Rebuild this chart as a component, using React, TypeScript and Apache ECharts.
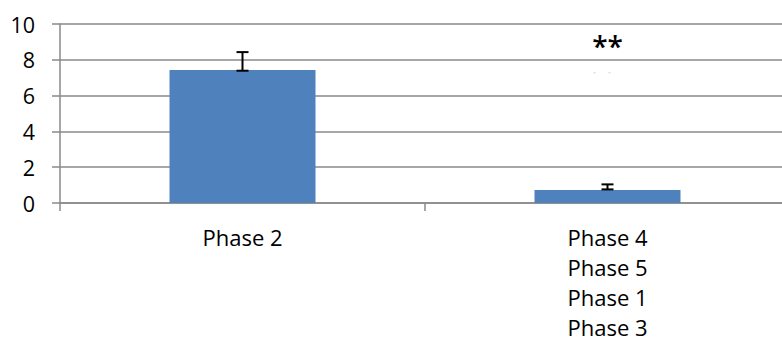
import React, { useEffect, useRef } from "react";
import * as echarts from "echarts";

// Data
const categoryGroups: string[][] = [["Phase 2"], ["Phase 4", "Phase 5", "Phase 1", "Phase 3"]];
const means: number[] = [7.43, 0.72];
const errLow: number[] = [7.39, 0.76];
const errHigh: number[] = [8.43, 1.04];
const significance: string[] = ["", "**"];
const significanceLevel: number[] = [8.9, 8.9];
const faintMarkLevel: number[] = [NaN, 7.3];
const yTicks = { min: 0, max: 10, interval: 2 };

const FONT = "'Open Sans', 'Noto Sans', sans-serif";

export default function App() {
  const ref = useRef<HTMLDivElement>(null);
  useEffect(() => {
    if (!ref.current) return;
    const chart = echarts.init(ref.current, null, { renderer: "svg" });
    const categories = categoryGroups.map((g) => g.join("\n"));
    const gridColor = "#8a8a8a";
    chart.setOption({
      animation: false,
      grid: { left: 60, top: 24, width: 730, bottom: 141, containLabel: false },
      xAxis: {
        type: "category",
        data: categories,
        boundaryGap: true,
        axisLine: { show: true, lineStyle: { color: gridColor, width: 1.5 } },
        axisTick: { show: true, alignWithLabel: false, length: 8, lineStyle: { color: gridColor, width: 1.5 } },
        axisLabel: {
          interval: 0,
          color: "#000",
          fontFamily: FONT,
          fontSize: 22,
          lineHeight: 30,
          margin: 19,
        },
        splitLine: { show: false },
      },
      yAxis: {
        type: "value",
        min: yTicks.min,
        max: yTicks.max,
        interval: yTicks.interval,
        axisLine: { show: true, lineStyle: { color: gridColor, width: 1.5 } },
        axisTick: { show: true, length: 8, lineStyle: { color: gridColor, width: 1.5 } },
        axisLabel: { color: "#000", fontFamily: FONT, fontSize: 21.5, margin: 25 },
        splitLine: { show: true, lineStyle: { color: gridColor, width: 1.5 } },
      },
      series: [
        {
          type: "bar",
          data: means,
          barWidth: "40%",
          itemStyle: { color: "#4F81BD" },
          z: 2,
        },
        {
          type: "custom",
          z: 3,
          data: categories.map((_, i) => [i, errLow[i], errHigh[i]]),
          renderItem: (params: any, api: any) => {
            const lo = api.coord([api.value(0), api.value(1)]);
            const hi = api.coord([api.value(0), api.value(2)]);
            const hw = 6;
            const style = { stroke: "#000", lineWidth: 2 };
            return {
              type: "group",
              children: [
                { type: "line", shape: { x1: lo[0], y1: lo[1], x2: hi[0], y2: hi[1] }, style },
                { type: "line", shape: { x1: lo[0] - hw, y1: lo[1], x2: lo[0] + hw, y2: lo[1] }, style },
                { type: "line", shape: { x1: hi[0] - hw, y1: hi[1], x2: hi[0] + hw, y2: hi[1] }, style },
              ],
            };
          },
        },
        {
          type: "custom",
          z: 4,
          data: categories.map((_, i) => [i, significanceLevel[i], faintMarkLevel[i]]),
          renderItem: (params: any, api: any) => {
            const i = params.dataIndex;
            const p = api.coord([api.value(0), api.value(1)]);
            const children: any[] = [];
            if (significance[i]) {
              children.push({
                type: "text",
                x: p[0],
                y: p[1] + 2,
                style: {
                  text: significance[i],
                  fill: "#000",
                  font: `600 28px ${FONT}`,
                  textAlign: "center",
                  textVerticalAlign: "middle",
                },
              });
            }
            const fv = api.value(2);
            if (!isNaN(fv)) {
              const q = api.coord([api.value(0), fv]);
              children.push(
                { type: "rect", shape: { x: q[0] - 14, y: q[1], width: 2, height: 1 }, style: { fill: "#cfcfcf" } },
                { type: "rect", shape: { x: q[0] + 1, y: q[1], width: 2, height: 1 }, style: { fill: "#cfcfcf" } }
              );
            }
            return { type: "group", children };
          },
        },
      ],
    });
    return () => chart.dispose();
  }, []);
  return (
    <div style={{ position: "absolute", left: 0, top: 0, width: 782, height: 344, overflow: "hidden" }}>
      <div ref={ref} style={{ width: 800, height: 344 }} />
    </div>
  );
}
